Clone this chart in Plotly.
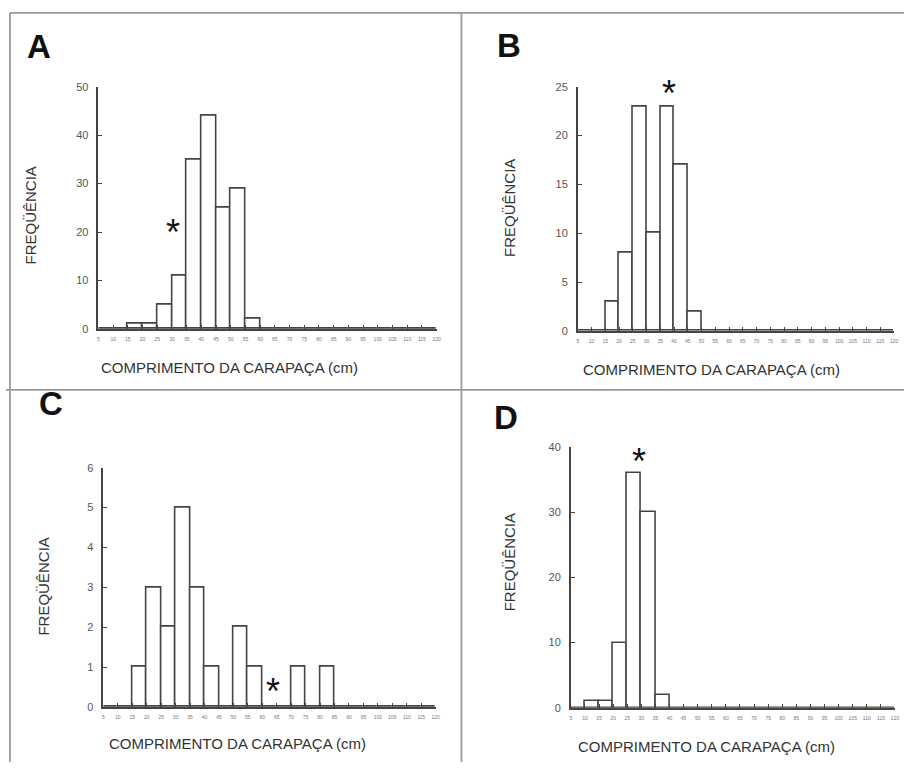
import plotly.graph_objects as go

# ---- data (carapace length classes, 5 cm) ----
class_start = [5, 10, 15, 20, 25, 30, 35, 40, 45, 50, 55, 60, 65, 70, 75, 80, 85, 90, 95, 100, 105, 110, 115]
tick_vals = [5, 10, 15, 20, 25, 30, 35, 40, 45, 50, 55, 60, 65, 70, 75, 80, 85, 90, 95, 100, 105, 110, 115, 120]
tick_text = ["5", "10", "15", "20", "25", "30", "35", "40", "45", "50", "55", "60", "65", "70",
             "75", "80", "85", "90", "95", "100", "105", "110", "115", "120"]

freq_A = [0, 0, 1, 1, 5, 11, 35, 44, 25, 29, 2, 0, 0, 0, 0, 0, 0, 0, 0, 0, 0, 0, 0]
freq_B = [0, 0, 3, 8, 23, 10, 23, 17, 2, 0, 0, 0, 0, 0, 0, 0, 0, 0, 0, 0, 0, 0, 0]
freq_C = [0, 0, 1, 3, 2, 5, 3, 1, 0, 2, 1, 0, 0, 1, 0, 1, 0, 0, 0, 0, 0, 0, 0]
freq_D = [0, 1, 1, 10, 36, 30, 2, 0, 0, 0, 0, 0, 0, 0, 0, 0, 0, 0, 0, 0, 0, 0, 0]

panel_letters = ["A", "B", "C", "D"]
y_ranges = [50, 25, 6, 40]
y_steps = [10, 5, 1, 10]
# asterisk positions (length, frequency level)
star_x = [30.5, 38.0, 63.8, 29.0]
star_y = [19.9, 24.3, 0.38, 37.8]

x_title = "COMPRIMENTO DA CARAPAÇA (cm)"
y_title = "FREQÜÊNCIA"

W, H = 908, 768
def px(x):
    return x / W
def py(y):
    return 1 - y / H

# plot areas in pixel coords: (x0, x1, y_bottom, y_top)
areas = [(98, 438, 328, 82), (580, 898, 330, 82), (103, 437, 712, 469), (573, 899, 713, 448)]
letter_pos = [(38, 41), (511, 40), (50, 404), (508, 418)]
ytitle_pos = [(30, 213), (512, 205), (43, 590), (511, 565)]
xtitle_pos = [(99, 367), (583, 369), (107, 749), (578, 752)]

FONT = "Liberation Sans, Arial, Helvetica, sans-serif"
LINE = "#444444"

fig = go.Figure()
series = [freq_A, freq_B, freq_C, freq_D]
centers = [s + 2.5 for s in class_start]

layout = dict(width=W, height=H, margin=dict(l=0, r=0, t=0, b=0),
              paper_bgcolor="white", plot_bgcolor="white", showlegend=False,
              bargap=0, font=dict(family=FONT, color="#333"))
annotations = []
shapes = []

for i in range(4):
    xa = "xaxis" if i == 0 else f"xaxis{i+1}"
    ya = "yaxis" if i == 0 else f"yaxis{i+1}"
    xr = "x" if i == 0 else f"x{i+1}"
    yr = "y" if i == 0 else f"y{i+1}"
    x0, x1, yb, yt = areas[i]
    fig.add_trace(go.Bar(x=centers, y=series[i], width=5, xaxis=xr, yaxis=yr,
                         marker=dict(color="white", line=dict(color=LINE, width=1.6)),
                         hoverinfo="skip"))
    layout[xa] = dict(domain=[px(x0), px(x1)], range=[5, 120], anchor=yr,
                      showline=True, linecolor=LINE, linewidth=1.6, ticks="inside",
                      ticklen=4, tickcolor=LINE, tickwidth=1, tickvals=tick_vals,
                      ticktext=tick_text, tickfont=dict(size=5, color="#777"),
                      ticklabelstandoff=4,
                      showgrid=False, zeroline=False, fixedrange=True)
    layout[ya] = dict(domain=[py(yb), py(yt)], range=[0, y_ranges[i]], anchor=xr,
                      showline=True, linecolor=LINE, linewidth=1.6, ticks="inside",
                      ticklen=4, tickcolor=LINE, dtick=y_steps[i], tick0=0,
                      tickfont=dict(size=11, color="#555"), ticklabelstandoff=6,
                      showgrid=False, zeroline=False, fixedrange=True)
    annotations.append(dict(x=star_x[i], y=star_y[i], xref=xr, yref=yr, text="*",
                            showarrow=False, font=dict(size=36, color="#111", family=FONT),
                            xanchor="center", yanchor="middle"))
    lx, ly = letter_pos[i]
    annotations.append(dict(x=px(lx), y=py(ly), xref="paper", yref="paper",
                            text=f"<b>{panel_letters[i]}</b>", showarrow=False,
                            font=dict(size=33, color="#111", family=FONT),
                            xanchor="center", yanchor="middle"))
    tx, ty = ytitle_pos[i]
    annotations.append(dict(x=px(tx), y=py(ty), xref="paper", yref="paper",
                            text=y_title, textangle=-90, showarrow=False,
                            font=dict(size=15, color="#333", family=FONT),
                            xanchor="center", yanchor="middle"))
    tx, ty = xtitle_pos[i]
    annotations.append(dict(x=px(tx), y=py(ty), xref="paper", yref="paper",
                            text=x_title, showarrow=False,
                            font=dict(size=15, color="#333", family=FONT),
                            xanchor="left", yanchor="middle"))

frame = dict(type="line", xref="paper", yref="paper", line=dict(color="#9a9a9a", width=1.8))
shapes.append(dict(frame, x0=px(9), x1=px(9), y0=py(7), y1=0))
shapes.append(dict(frame, x0=px(9), x1=1, y0=py(7), y1=py(7)))
shapes.append(dict(frame, x0=px(463), x1=px(463), y0=py(7), y1=0))
shapes.append(dict(frame, x0=px(5), x1=1, y0=py(390), y1=py(390)))

layout["annotations"] = annotations
layout["shapes"] = shapes
fig.update_layout(**layout)
fig.write_html("out.html", config={"displayModeBar": False},
               post_script="document.body.style.margin='0';document.body.style.overflow='hidden';")
